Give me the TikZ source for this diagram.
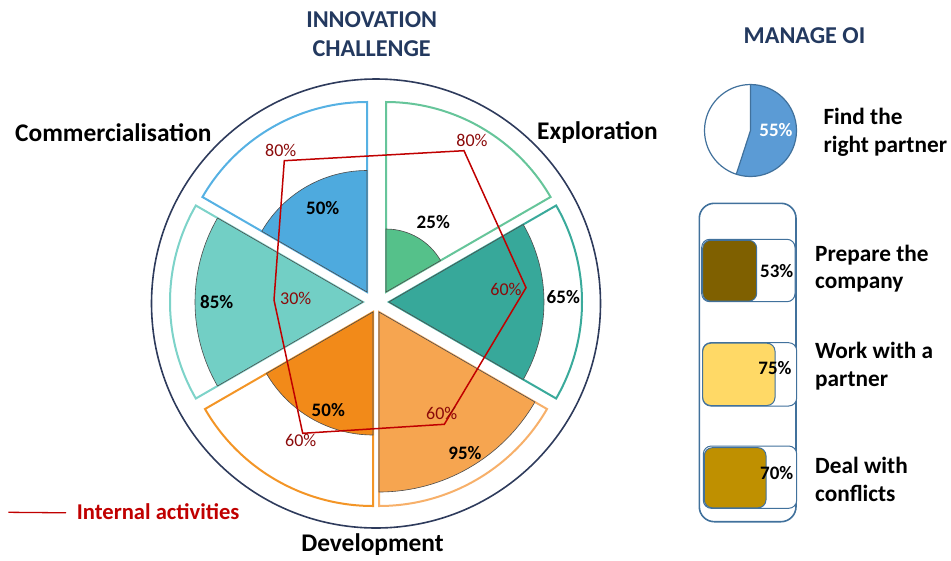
\documentclass[tikz,border=0pt]{standalone}
\usepackage{fontspec}
\setmainfont{Carlito}
\definecolor{navy}{HTML}{23395F}
\definecolor{ring}{HTML}{2E3B5C}
\definecolor{redline}{HTML}{C00000}
\definecolor{redlab}{HTML}{8B0A0A}
\definecolor{stblue}{HTML}{41719C}
\definecolor{pieblue}{HTML}{5B9BD5}
\definecolor{oGreen}{HTML}{66C59A}\definecolor{fGreen}{HTML}{55C18A}
\definecolor{oTeal}{HTML}{3AAA9B}\definecolor{fTeal}{HTML}{37A89A}
\definecolor{oLOrange}{HTML}{F7B06A}\definecolor{fLOrange}{HTML}{F6A550}
\definecolor{oOrange}{HTML}{F39526}\definecolor{fOrange}{HTML}{F28A19}
\definecolor{oLTeal}{HTML}{7DD3C9}\definecolor{fLTeal}{HTML}{72CFC5}
\definecolor{oBlue}{HTML}{56B1E3}\definecolor{fBlue}{HTML}{4EAADE}
\definecolor{cBrown}{HTML}{7F6000}\definecolor{cYellow}{HTML}{FFD966}\definecolor{cGold}{HTML}{BF9000}
\newcommand{\fsz}[1]{\fontsize{#1}{#1}\selectfont}
\tikzset{
  outl/.style={line width=2pt, fill=white},
  wedge/.style={draw=black!70, line width=0.6pt},
  catlab/.style={font=\fsz{25.4}\bfseries, text=black, inner sep=0pt},
  pctlab/.style={font=\fsz{19}\bfseries, text=black, inner sep=0pt},
  redpct/.style={font=\fsz{18}, text=redlab, inner sep=0pt},
  sidelab/.style={font=\fontsize{23.3}{27.7}\selectfont\bfseries, align=left, anchor=west, inner sep=0pt},
  titlelab/.style={font=\fontsize{24.2}{29}\selectfont\bfseries, text=navy, align=center, inner sep=0pt},
  barbox/.style={draw=stblue, line width=1pt, rounded corners=8pt},
}
\newcommand{\sect}[6]{% apex x, apex y, start, end, radius, style
  \path[#6] (#1,-#2) -- ++(#3:#5) arc[start angle=#3, end angle=#4, radius=#5] -- cycle;}
\begin{document}
\begin{tikzpicture}[x=1pt,y=1pt]
\useasboundingbox (0,0) rectangle (951,-560);
% outer ring
\draw[ring, line width=1.6pt] (376,-303.5) circle[radius=224.5];
% sector outlines
\sect{386}{292}{30}{90}{190}{outl, draw=oGreen}
\sect{389}{302}{-30}{30}{193}{outl, draw=oTeal}
\sect{379}{312}{-90}{-30}{194}{outl, draw=oLOrange}
\sect{373}{312}{-150}{-90}{194}{outl, draw=oOrange}
\sect{363}{302}{150}{210}{193}{outl, draw=oLTeal}
\sect{367}{292}{90}{150}{190}{outl, draw=oBlue}
% filled wedges
\sect{386}{292}{30}{90}{63}{wedge, fill=fGreen}
\sect{389}{302}{-30}{30}{155}{wedge, fill=fTeal}
\sect{379}{312}{-90}{-30}{180}{wedge, fill=fLOrange}
\sect{373}{312}{-150}{-90}{123}{wedge, fill=fOrange}
\sect{363}{302}{150}{210}{168}{wedge, fill=fLTeal}
\sect{367}{292}{90}{150}{121.5}{wedge, fill=fBlue}
% internal activities polygon
\coordinate (pE8) at (464,-150.7);
\coordinate (pE6) at (526,-287.7);
\coordinate (pD6r) at (444.3,-424.3);
\coordinate (pD6l) at (302.7,-433.3);
\coordinate (pC3) at (274,-300);
\coordinate (pC8) at (284.3,-160.7);
\draw[redline, line width=1.5pt, line join=miter] (pE8) -- (pE6) -- (pD6r) -- (pD6l) -- (pC3) -- (pC8) -- cycle;
% black percentage labels
\node[pctlab] (l25) at (433.3,-221.7) {25\%};
\node[pctlab] (l50a) at (322.7,-207.7) {50\%};
\node[pctlab] (l65) at (563.3,-296.7) {65\%};
\node[pctlab] (l85) at (216.7,-301.7) {85\%};
\node[pctlab] (l50b) at (328.3,-410) {50\%};
\node[pctlab] (l95) at (465,-452.7) {95\%};
% red labels
\node[redpct] (r80a) at (280.7,-150.7) {80\%};
\node[redpct] (r80b) at (472,-140.7) {80\%};
\node[redpct] (r60a) at (506,-289.3) {60\%};
\node[redpct] (r30) at (295.7,-298) {30\%};
\node[redpct] (r60b) at (441.7,-413.3) {60\%};
\node[redpct] (r60c) at (300.7,-440) {60\%};
% category labels
\node[catlab, anchor=west] (commlab) at (15,-133) {Commercialisation};
\node[catlab, anchor=west] (explab) at (537,-132.5) {Exploration};
\node[catlab] (devlab) at (372.5,-545) {Development};
\node[titlelab] (title) at (371.7,-33.8) {INNOVATION\\CHALLENGE};
\node[titlelab] (mantitle) at (804.5,-36) {MANAGE OI};
% legend
\coordinate (lg1) at (8.3,-512.3);
\coordinate (lg2) at (66,-512.8);
\draw[redline, line width=1.3pt] (lg1) -- (lg2);
\node[font=\fsz{22.6}\bfseries, text=redline, anchor=west, inner sep=0pt] (leglab) at (76.7,-511.7) {Internal activities};
% right panel: pie
\coordinate (pc) at (750.5,-130.5);
\fill[white] (pc) circle[radius=46];
\fill[pieblue] (pc) ++(90:46) arc[start angle=90, end angle=-108, radius=46] -- (pc) -- cycle;
\draw[stblue, line width=1.2pt] (pc) ++(90:46) -- (pc) -- ++(-108:46);
\draw[stblue, line width=1.2pt] (pc) circle[radius=46];
\node[font=\fsz{19}\bfseries, text=white, inner sep=0pt] (p55) at (776,-130) {55\%};
\node[sidelab] (findlab) at (823.3,-132.2) {Find the\\right partner};
% big rounded box
\draw[stblue, line width=1.6pt, rounded corners=15pt] (699.3,-203.3) rectangle (796,-521.7);
% bars
\draw[barbox, fill=white] (701.7,-239.3) rectangle (795,-301.7);
\draw[barbox, fill=cBrown] (702.7,-240.3) rectangle (756.7,-301.2);
\node[pctlab] (b53) at (776.7,-271) {53\%};
\draw[barbox, fill=white] (702.7,-342.7) rectangle (796.7,-406);
\draw[barbox, fill=cYellow] (702.7,-343.2) rectangle (775,-405.5);
\node[pctlab] (b75) at (775,-368.3) {75\%};
\draw[barbox, fill=white] (703.3,-446) rectangle (796.7,-508.3);
\draw[barbox, fill=cGold] (704.3,-447.7) rectangle (766,-507.8);
\node[pctlab] (b70) at (776.7,-473.3) {70\%};
\node[sidelab] (preplab) at (815,-268.8) {Prepare the\\company};
\node[sidelab] (worklab) at (815,-366.1) {Work with a\\partner};
\node[sidelab] (deallab) at (815,-479.2) {Deal with\\conflicts};
\end{tikzpicture}
\end{document}
